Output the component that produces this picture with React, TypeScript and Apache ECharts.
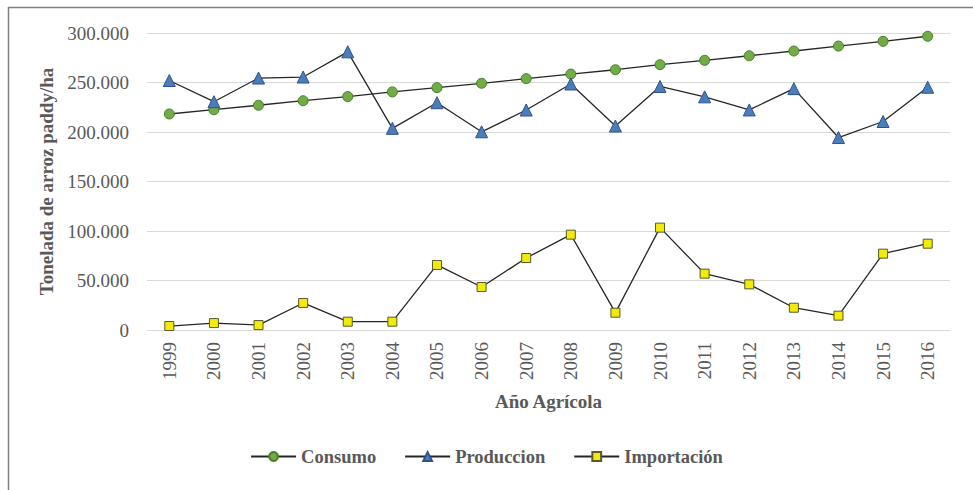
import React, { useEffect, useRef } from "react";
import * as echarts from "echarts";

const years = ["1999","2000","2001","2002","2003","2004","2005","2006","2007","2008","2009","2010","2011","2012","2013","2014","2015","2016"];
const consumo = [218200,222500,227000,231600,235800,240500,244800,249200,253900,258500,262900,268000,272400,277000,281800,286800,291600,296700];
const produccion = [252000,230600,254500,255500,281000,203700,229600,200200,222200,248500,206000,246000,235500,222300,243800,194400,210600,245200];
const importacion = [4000,7000,5000,27300,8400,8400,65700,43400,72700,96300,17500,103400,56900,46100,22500,14500,77100,87200];
const seriesNames = ["Consumo", "Produccion", "Importación"];

const fmt = (v: number) => {
  if (v === 0) return "0";
  return String(Math.round(v)).replace(/\B(?=(\d{3})+(?!\d))/g, ".");
};

export default function App() {
  const ref = useRef<HTMLDivElement>(null);
  useEffect(() => {
    document.body.style.margin = "0";
    const chart = echarts.init(ref.current!, null, { renderer: "svg" });
    const font = "Liberation Serif";
    const txt = "#595959";
    const lineStyle = { color: "#262626", width: 1.3 };
    chart.setOption({
      animation: false,
      backgroundColor: "#ffffff",
      textStyle: { fontFamily: font },
      grid: { left: 147, right: 23, top: 33, bottom: 160, containLabel: false },
      legend: {
        bottom: 19,
        left: "center",
        itemWidth: 45,
        itemHeight: 11,
        itemGap: 28,
        textStyle: { fontFamily: font, fontSize: 18.5, fontWeight: "bold", color: txt },
        data: seriesNames,
      },
      xAxis: {
        type: "category",
        data: years,
        boundaryGap: true,
        name: "Año Agrícola",
        nameLocation: "middle",
        nameGap: 62,
        nameTextStyle: { fontFamily: font, fontSize: 19, fontWeight: "bold", color: txt },
        axisLine: { show: true, lineStyle: { color: "#d9d9d9", width: 1 } },
        axisTick: { show: false },
        axisLabel: { rotate: 90, margin: 12, fontFamily: font, fontSize: 19, color: txt, interval: 0 },
      },
      yAxis: {
        type: "value",
        min: 0,
        max: 300000,
        interval: 50000,
        name: "Tonelada de arroz paddy/ha",
        nameLocation: "middle",
        nameGap: 84,
        nameTextStyle: { fontFamily: font, fontSize: 19, fontWeight: "bold", color: txt },
        axisLine: { show: false },
        axisTick: { show: false },
        axisLabel: { margin: 18, fontFamily: font, fontSize: 19, color: txt, formatter: fmt },
        splitLine: { lineStyle: { color: "#d9d9d9", width: 1 } },
      },
      graphic: [
        { type: "line", shape: { x1: 8, y1: 7.5, x2: 973, y2: 7.5 }, style: { stroke: "#7f7f7f", lineWidth: 1.5 } },
        { type: "line", shape: { x1: 8.5, y1: 7, x2: 8.5, y2: 490 }, style: { stroke: "#7f7f7f", lineWidth: 1.5 } },
      ],
      series: [
        {
          name: seriesNames[0],
          type: "line",
          data: consumo,
          symbol: "circle",
          symbolSize: 10,
          lineStyle,
          itemStyle: { color: "#70ad47", borderColor: "#4a7a2c", borderWidth: 1 },
        },
        {
          name: seriesNames[1],
          type: "line",
          data: produccion,
          symbol: "triangle",
          symbolSize: 12,
          lineStyle,
          itemStyle: { color: "#4a7ebb", borderColor: "#2f528f", borderWidth: 1 },
        },
        {
          name: seriesNames[2],
          type: "line",
          data: importacion,
          symbol: "rect",
          symbolSize: 9,
          lineStyle,
          itemStyle: { color: "#f2ea0a", borderColor: "#5a5a2a", borderWidth: 1 },
        },
      ],
    });
    return () => chart.dispose();
  }, []);
  return <div ref={ref} style={{ width: 973, height: 490 }} />;
}
